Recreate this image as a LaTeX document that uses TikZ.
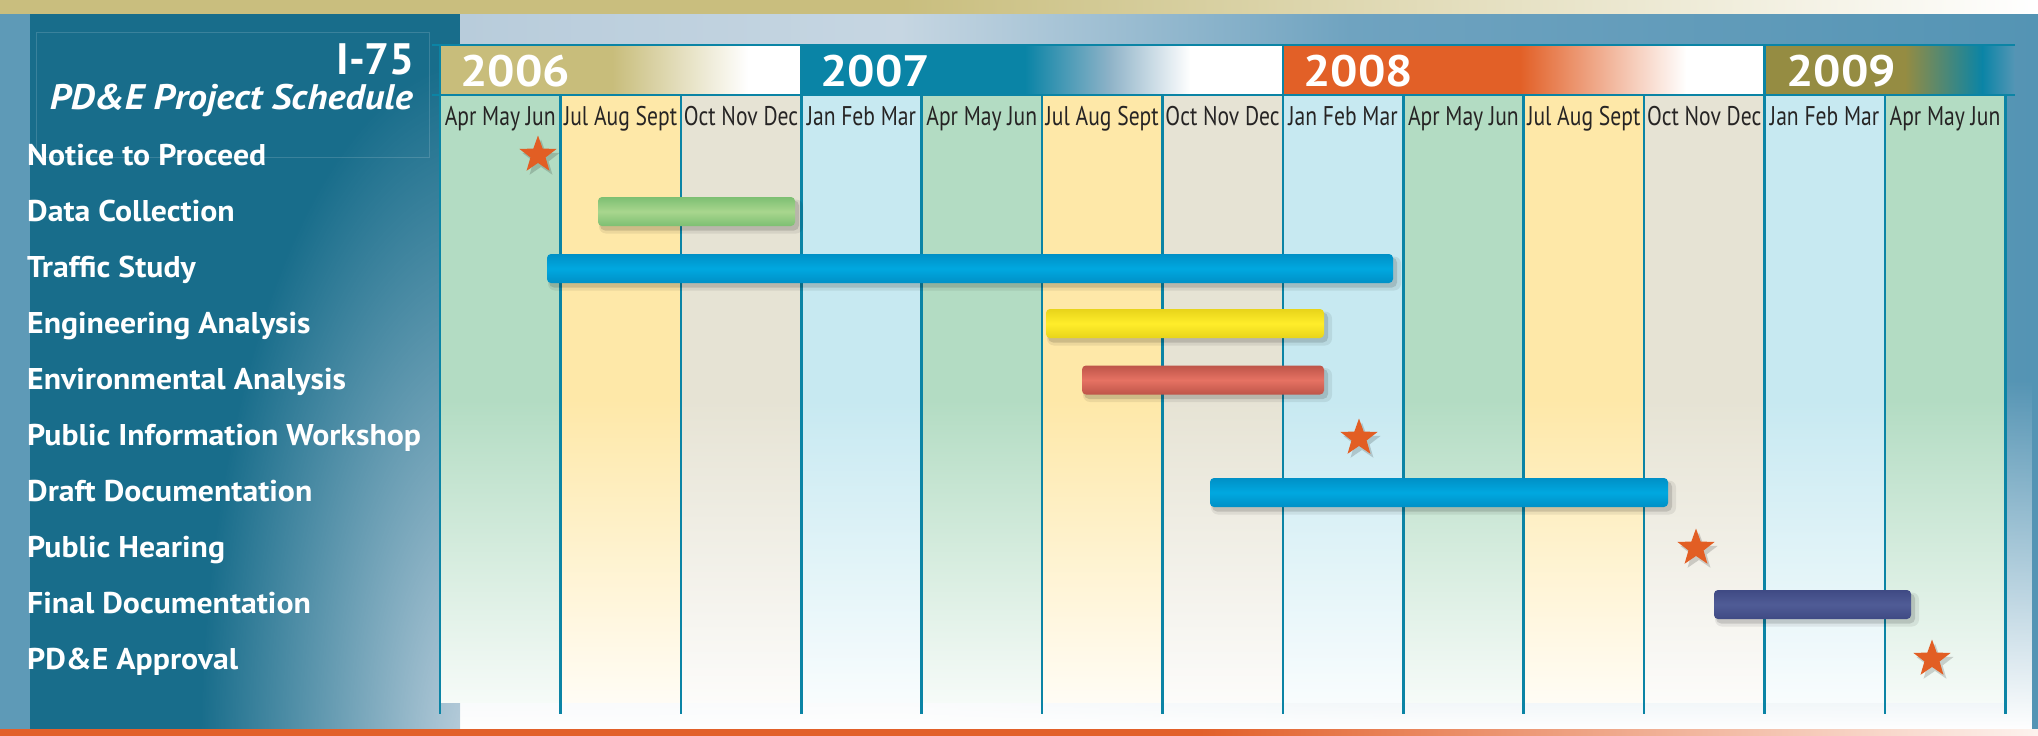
\documentclass[tikz,border=0pt]{standalone}
\usepackage{fontspec}
\setmainfont{PT Sans}
\newfontfamily\lblfont{PT Sans}[FakeStretch=1.06]
\newfontfamily\titlefont{PT Sans}
\newfontfamily\titleit{PT Sans}[FakeStretch=1.08]
\newfontfamily\monfont{PT Sans}[FakeStretch=0.80]
\newfontfamily\yrfont{PT Sans}[FakeStretch=1.10]
\usetikzlibrary{shapes.geometric,fadings}

\definecolor{topgold}{HTML}{C9BE7E}
\definecolor{gridc}{HTML}{0B84A5}
\definecolor{panelc}{HTML}{186D8B}
\definecolor{stripc}{HTML}{5E9AB7}
\definecolor{glowc}{HTML}{C2D3E0}
\definecolor{bgA}{HTML}{B8CCDB}
\definecolor{bgB}{HTML}{C6D6E2}
\definecolor{bgC}{HTML}{6FA3C0}
\definecolor{bgD}{HTML}{5494B4}
\definecolor{cgreen}{HTML}{B3DCC3}
\definecolor{cyellow}{HTML}{FEE8A8}
\definecolor{cbeige}{HTML}{E6E3D4}
\definecolor{cblue}{HTML}{C7E9F1}
\definecolor{ygold}{HTML}{C8BD7B}
\definecolor{yteal}{HTML}{0A84A6}
\definecolor{ymid}{HTML}{8FB3C8}
\definecolor{yorange}{HTML}{E26027}
\definecolor{yolive}{HTML}{958C42}
\definecolor{ylblue}{HTML}{5596B5}
\definecolor{starc}{HTML}{E25E24}
\definecolor{monthc}{HTML}{262424}
\definecolor{bgreenA}{HTML}{A8D68E}
\definecolor{bgreenB}{HTML}{7DBF72}
\definecolor{bblueA}{HTML}{00A8E0}
\definecolor{bblueB}{HTML}{0090C6}
\definecolor{byelA}{HTML}{FFED2B}
\definecolor{byelB}{HTML}{E8D41A}
\definecolor{bredA}{HTML}{E67263}
\definecolor{bredB}{HTML}{BE5549}
\definecolor{bnavA}{HTML}{505C96}
\definecolor{bnavB}{HTML}{3F4A84}
\definecolor{orangeband}{HTML}{E2602A}

\tikzfading[name=fadeup, top color=transparent!100, bottom color=transparent!0]
\tikzfading[name=radfade, inner color=transparent!0, outer color=transparent!100]

\newcommand\ganttbar[5]{%
  \fill[black, opacity=0.07, rounded corners=7pt] (#1+1,#3-12) rectangle (#2+8,#3+22);
  \fill[black, opacity=0.13, rounded corners=5pt] (#1+2,#3-11) rectangle (#2+4,#3+19);
  \shade[rounded corners=4pt, top color=#5, bottom color=#5, middle color=#4] (#1,#3-14.5) rectangle (#2,#3+14.5);
}
\newcommand\yrseg[6]{%
  \fill[#5] (#1,46) rectangle (#2+0.5,94);
  \shade[left color=#5, right color=#6] (#2,46) rectangle (#3+0.5,94);
  \fill[#6] (#3,46) rectangle (#4,94);
}

\begin{document}
\begin{tikzpicture}[x=1pt,y=-1pt,
  gridline/.style={draw=gridc, line width=2.6pt},
  rowlabel/.style={font=\lblfont\bfseries\fontsize{30}{31}\selectfont, text=white, anchor=base west, inner sep=0pt},
  month/.style={font=\monfont\fontsize{27}{28}\selectfont, text=monthc, anchor=base, inner sep=0pt},
  yearlbl/.style={font=\yrfont\bfseries\fontsize{44}{44}\selectfont, text=white, anchor=base west, inner sep=0pt},
  starnode/.style={star, star points=5, star point ratio=2.45, minimum size=39pt, inner sep=0pt, fill=starc, draw=none},
  starshadow/.style={starnode, fill=black, opacity=0.16}]
\useasboundingbox (0,0) rectangle (2038,736);
\fill[white] (0,0) rectangle (2038,736);

% top gold band
\fill[topgold] (0,0) rectangle (901,14);
\shade[left color=topgold, right color=white] (900,0) rectangle (2038,14);

% right background
\shade[left color=bgA, right color=bgB] (460,14) rectangle (901,730);
\shade[left color=bgB, right color=bgC] (900,14) rectangle (1351,730);
\shade[left color=bgC, right color=bgD] (1350,14) rectangle (2038,730);
\fill[white, path fading=fadeup] (440,380) rectangle (2038,730);

% left panel
\fill[panelc] (0,14) rectangle (460,730);
\fill[stripc] (0,14) rectangle (30,730);
\begin{scope}
  \clip (30,14) rectangle (460,730);
  \fill[glowc, path fading=radfade] (480,760) ellipse [x radius=280, y radius=700];
\end{scope}
\draw[white, opacity=0.15, line width=0.8pt] (36,32) rectangle (429,157);

% columns
\foreach \i/\cc/\mname in {0/cgreen/Apr May Jun, 1/cyellow/Jul Aug Sept, 2/cbeige/Oct Nov Dec, 3/cblue/Jan Feb Mar,
  4/cgreen/Apr May Jun, 5/cyellow/Jul Aug Sept, 6/cbeige/Oct Nov Dec, 7/cblue/Jan Feb Mar,
  8/cgreen/Apr May Jun, 9/cyellow/Jul Aug Sept, 10/cbeige/Oct Nov Dec, 11/cblue/Jan Feb Mar, 12/cgreen/Apr May Jun} {
  \pgfmathsetmacro\xa{440+120.4*\i}
  \pgfmathsetmacro\xb{\xa+120.4}
  \fill[\cc] (\xa,95) rectangle (\xb,400.5);
  \shade[top color=\cc, bottom color=\cc!12!white] (\xa,400) rectangle (\xb,702);
  \node[month] (m\i) at ({\xa+60.2},125) {\mname};
}

% year bar
\yrseg{440}{612}{748}{800}{ygold}{white}
\fill[yteal] (800,46) rectangle (1025.5,94);
\shade[left color=yteal, right color=ymid] (1025,46) rectangle (1110.5,94);
\shade[left color=ymid, right color=white] (1110,46) rectangle (1190.5,94);
\fill[white] (1190,46) rectangle (1283,94);
\yrseg{1283}{1520}{1686}{1764}{yorange}{white}
\fill[yolive] (1764,46) rectangle (1905.5,94);
\shade[left color=yolive, right color=yteal] (1905,46) rectangle (1982.5,94);
\shade[left color=yteal, right color=ylblue] (1982,46) rectangle (2015,94);

% grid lines
\foreach \i in {0,...,13} \draw[gridline] ({440+120.4*\i},95) -- ({440+120.4*\i},714);
\foreach \i in {0,3,7,11} \draw[gridline] ({440+120.4*\i},45) -- ({440+120.4*\i},95);
\draw[gridline] (432,45) -- (2015,45);
\draw[gridline] (432,95) -- (2015,95);

% year labels
\node[yearlbl] (y6) at (460,86) {2006};
\node[yearlbl] (y7) at (820,86) {2007};
\node[yearlbl] (y8) at (1303,86) {2008};
\node[yearlbl] (y9) at (1786,86) {2009};

% title
\node[font=\titlefont\bfseries\fontsize{44}{44}\selectfont, text=white, anchor=base east, inner sep=0pt] (t1) at (415,74) {I-75};
\node[font=\titleit\bfseries\itshape\fontsize{35.5}{36}\selectfont, text=white, anchor=base east, inner sep=0pt] (t2) at (413,109) {PD\&E Project Schedule};

% row labels
\foreach \k/\lab in {0/Notice to Proceed, 1/Data Collection, 2/Traffic Study, 3/Engineering Analysis,
  4/Environmental Analysis, 5/Public Information Workshop, 6/Draft Documentation, 7/Public Hearing,
  8/Final Documentation, 9/PD\&E Approval}
  \node[rowlabel] (L\k) at (27,{165+56*\k}) {\lab};

% bars
\ganttbar{598}{795}{211.5}{bgreenA}{bgreenB}
\ganttbar{547}{1393}{268.5}{bblueA}{bblueB}
\ganttbar{1046}{1324}{323.5}{byelA}{byelB}
\ganttbar{1082}{1324}{380}{bredA}{bredB}
\ganttbar{1210}{1668}{492.5}{bblueA}{bblueB}
\ganttbar{1714}{1911}{604.5}{bnavA}{bnavB}

% stars
\node[starshadow] (s1s) at (541,159) {};
\node[starnode] (s1) at (538,155) {};
\node[starshadow] (s2s) at (1362,442) {};
\node[starnode] (s2) at (1359,438) {};
\node[starshadow] (s3s) at (1699,552) {};
\node[starnode] (s3) at (1696,548) {};
\node[starshadow] (s4s) at (1935,663) {};
\node[starnode] (s4) at (1932,659) {};

% bottom orange band
\fill[orangeband] (0,729) rectangle (1201,736);
\shade[left color=orangeband, right color=orangeband!8!white] (1200,729) rectangle (2038,736);
\end{tikzpicture}
\end{document}
